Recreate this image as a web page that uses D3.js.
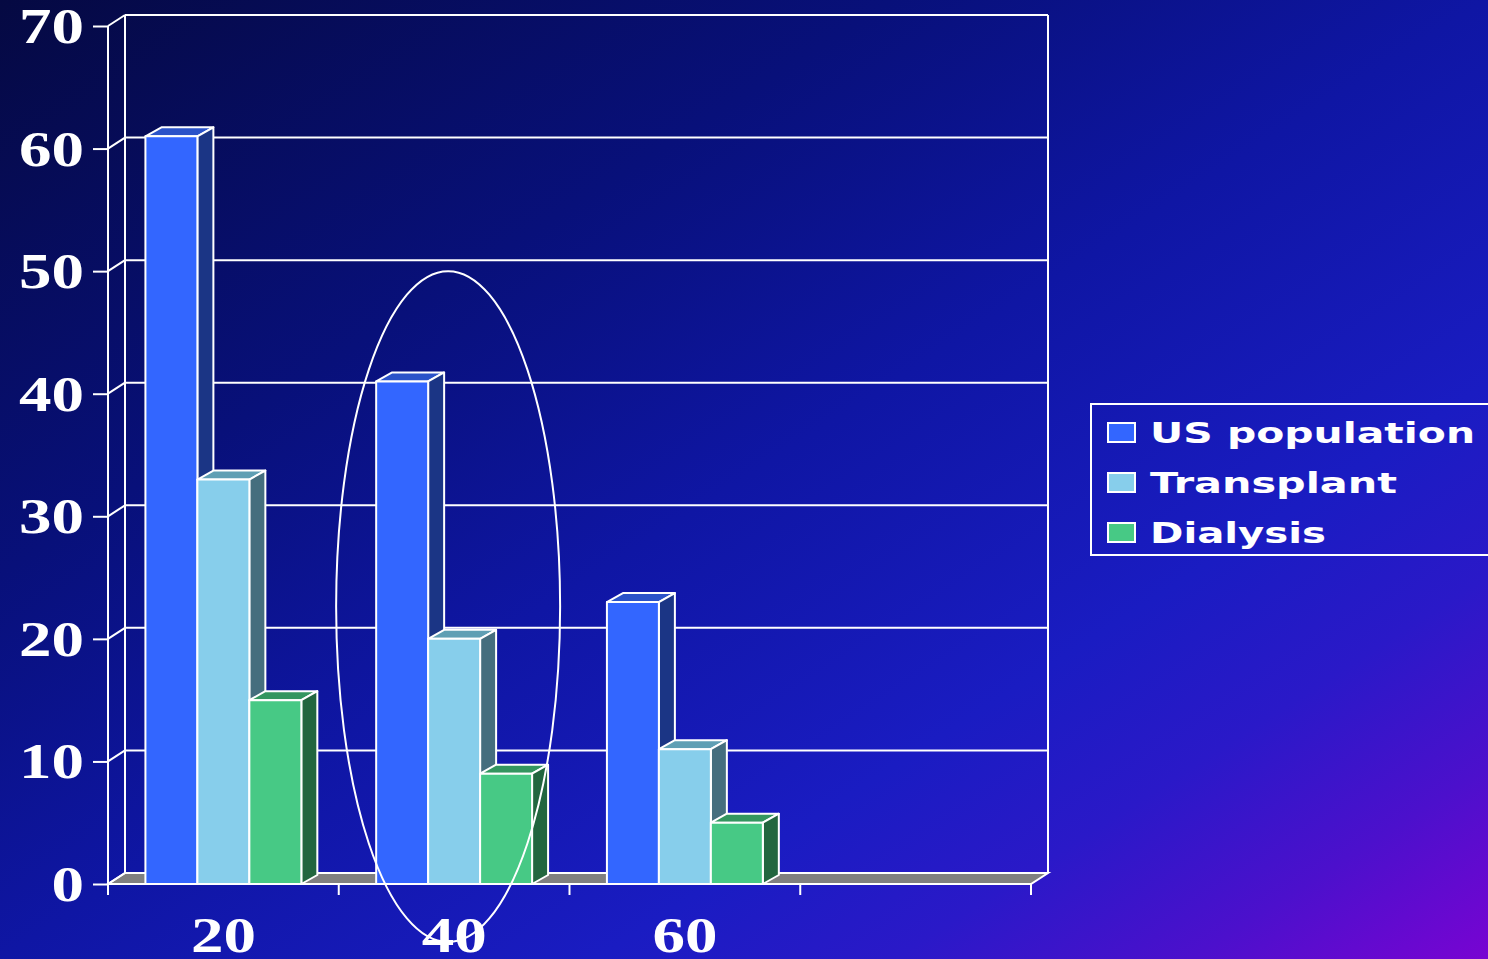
<!DOCTYPE html>
<html>
<head>
<meta charset="utf-8">
<script src="https://cdn.jsdelivr.net/npm/d3@7"></script>
<style>
  html, body { margin: 0; padding: 0; overflow: hidden; background: #0a0f80; }
  svg { display: block; }
</style>
</head>
<body>
<svg id="chart" width="1488" height="959"></svg>
<script>
// Age groups along the bottom (last slot is left empty on the floor)
const categories = ["20", "40", "60", ""];
const seriesNames = ["US population", "Transplant", "Dialysis"];
const usPopulation = [61, 41, 23];
const transplant = [33, 20, 11];
const dialysis = [15, 9, 5];
const yTicks = [0, 10, 20, 30, 40, 50, 60, 70];

const seriesValues = [usPopulation, transplant, dialysis];
const faceColors = ["#3366ff", "#87ceeb", "#47c985"];
const topColors = ["#2b53c9", "#5f9fb4", "#33965f"];
const sideColors = ["#1b3585", "#456e7e", "#22663f"];

const W = 1488, H = 959;
const svg = d3.select("#chart");

// Background gradient: dark navy top-left, blue across, purple in the lower-right corner
const defs = svg.append("defs");
const bg = defs.append("linearGradient").attr("id", "bg")
  .attr("x1", 0).attr("y1", 0).attr("x2", 1).attr("y2", 1);
[[0, "#050942"], [0.3, "#08107a"], [0.5, "#0f16a4"], [0.7, "#1a1cc2"],
 [0.8, "#2a19c8"], [0.9, "#4c10cc"], [1, "#7804d2"]].forEach(([o, c]) =>
  bg.append("stop").attr("offset", o).attr("stop-color", c));
svg.append("rect").attr("width", W).attr("height", H).attr("fill", "url(#bg)");

// Plot geometry
const plotLeft = 108, plotRight = 1031, plotBottom = 884, plotTop = 26;
const depthX = 17, depthY = 11;     // wall / floor depth
const barDX = 16, barDY = 9;        // bar depth

const y = d3.scaleLinear().domain([0, 70]).range([plotBottom, plotTop]);
const x0 = d3.scaleBand().domain(categories).range([plotLeft, plotRight]).paddingInner(0).paddingOuter(0);
const x1 = d3.scaleBand().domain(seriesNames).range([0, x0.bandwidth()]).paddingInner(0).paddingOuter(0.72);

const white = "#ffffff";
const lw = 2;

// Back wall with gridlines
const wall = svg.append("g");
yTicks.forEach(t => {
  if (t === 0) return;
  wall.append("line")
    .attr("x1", plotLeft + depthX).attr("x2", plotRight + depthX)
    .attr("y1", y(t) - depthY).attr("y2", y(t) - depthY)
    .attr("stroke", white).attr("stroke-width", lw);
});
wall.append("line")
  .attr("x1", plotLeft + depthX).attr("x2", plotLeft + depthX)
  .attr("y1", y(70) - depthY).attr("y2", y(0) - depthY)
  .attr("stroke", white).attr("stroke-width", lw);
wall.append("line")
  .attr("x1", plotRight + depthX).attr("x2", plotRight + depthX)
  .attr("y1", y(70) - depthY).attr("y2", y(0) - depthY)
  .attr("stroke", white).attr("stroke-width", lw);

// Floor
svg.append("polygon")
  .attr("points", [[plotLeft, plotBottom], [plotRight, plotBottom], [plotRight + depthX, plotBottom - depthY], [plotLeft + depthX, plotBottom - depthY]].join(" "))
  .attr("fill", "#808080").attr("stroke", white).attr("stroke-width", lw);

// Side-wall connectors from the front axis ticks
yTicks.forEach(t => {
  svg.append("line")
    .attr("x1", plotLeft).attr("y1", y(t))
    .attr("x2", plotLeft + depthX).attr("y2", y(t) - depthY)
    .attr("stroke", white).attr("stroke-width", lw);
});

// Bars (drawn left to right so each front face covers its neighbour's side)
const bars = svg.append("g");
categories.forEach((cat, ci) => {
  seriesNames.forEach((s, si) => {
    const v = seriesValues[si][ci];
    if (v === undefined) return;
    const xa = x0(cat) + x1(s);
    const xb = xa + x1.bandwidth();
    const yv = y(v), y0 = y(0);
    const g = bars.append("g").attr("stroke", white).attr("stroke-width", lw).attr("stroke-linejoin", "round");
    g.append("polygon")
      .attr("points", [[xa, yv], [xa + barDX, yv - barDY], [xb + barDX, yv - barDY], [xb, yv]].join(" "))
      .attr("fill", topColors[si]);
    g.append("polygon")
      .attr("points", [[xb, yv], [xb + barDX, yv - barDY], [xb + barDX, y0 - barDY], [xb, y0]].join(" "))
      .attr("fill", sideColors[si]);
    g.append("rect")
      .attr("x", xa).attr("y", yv).attr("width", xb - xa).attr("height", y0 - yv)
      .attr("fill", faceColors[si]);
  });
});

// Front value axis
const axisY = d3.axisLeft(y).tickValues(yTicks).tickSize(15).tickFormat("");
const gy = svg.append("g").attr("transform", `translate(${plotLeft},0)`).call(axisY);
gy.select(".domain").remove();
gy.selectAll(".tick line").attr("stroke", white).attr("stroke-width", lw);
svg.append("line").attr("x1", plotLeft).attr("x2", plotLeft).attr("y1", y(70)).attr("y2", plotBottom + 11)
  .attr("stroke", white).attr("stroke-width", lw);

// Category axis along the front floor edge
const xTickPos = categories.map(c => x0(c)).concat([plotRight]);
svg.append("line").attr("x1", plotLeft).attr("x2", plotRight).attr("y1", plotBottom).attr("y2", plotBottom)
  .attr("stroke", white).attr("stroke-width", lw);
xTickPos.forEach(px => {
  svg.append("line").attr("x1", px).attr("x2", px).attr("y1", plotBottom).attr("y2", plotBottom + 11)
    .attr("stroke", white).attr("stroke-width", lw);
});

const labelFont = "'Liberation Serif', 'DejaVu Serif', serif";
yTicks.forEach(t => {
  svg.append("text")
    .attr("transform", `translate(84,${y(t) + 17}) scale(1.3,1)`)
    .attr("text-anchor", "end")
    .attr("font-family", labelFont).attr("font-weight", "bold").attr("font-size", 50)
    .attr("fill", white).text(t);
});
categories.forEach(c => {
  if (!c) return;
  svg.append("text")
    .attr("transform", `translate(${x0(c) + x0.bandwidth() / 2},952) scale(1.3,1)`)
    .attr("text-anchor", "middle")
    .attr("font-family", labelFont).attr("font-weight", "bold").attr("font-size", 50)
    .attr("fill", white).text(c);
});

// Highlight ring around the 40 group
const ringTop = y(50), ringBottom = 942;
svg.append("ellipse")
  .attr("cx", x0("40") + x0.bandwidth() / 2 - 6)
  .attr("cy", (ringTop + ringBottom) / 2)
  .attr("rx", 112).attr("ry", (ringBottom - ringTop) / 2)
  .attr("fill", "none").attr("stroke", white).attr("stroke-width", 2);

// Legend
const legend = svg.append("g");
legend.append("rect").attr("x", 1091).attr("y", 404).attr("width", 420).attr("height", 151)
  .attr("fill", "none").attr("stroke", white).attr("stroke-width", lw);
const legendWidths = [325, 247, 176];
seriesNames.forEach((s, i) => {
  const cy = 432 + i * 50;
  legend.append("rect").attr("x", 1108).attr("y", cy - 9).attr("width", 27).attr("height", 19)
    .attr("fill", faceColors[i]).attr("stroke", white).attr("stroke-width", 2);
  legend.append("text")
    .attr("x", 1150).attr("y", cy + 11)
    .attr("font-family", "'DejaVu Sans', Verdana, sans-serif").attr("font-weight", "bold")
    .attr("font-size", 29).attr("fill", white)
    .attr("textLength", legendWidths[i]).attr("lengthAdjust", "spacingAndGlyphs")
    .text(s);
});
</script>
</body>
</html>
